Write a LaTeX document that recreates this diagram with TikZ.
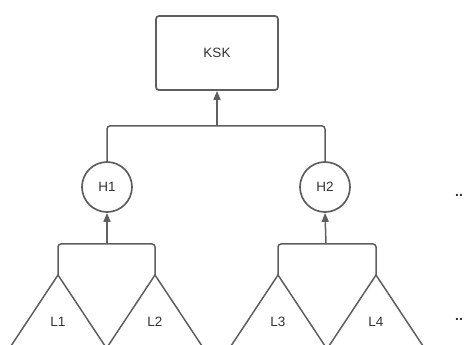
\documentclass[tikz,border=0pt]{standalone}
\usepackage{fontspec}
\setmainfont{Liberation Sans}
\usetikzlibrary{arrows.meta,calc}
\definecolor{ln}{HTML}{5F5F5F}
\definecolor{tx}{HTML}{333333}
\begin{document}
\begin{tikzpicture}[x=1pt,y=-1pt,
  every node/.style={font=\fontsize{13.5}{15}\selectfont, text=tx},
  conn/.style={draw=ln, line width=1.5pt, rounded corners=3pt},
  arr/.style={conn, -{Triangle[length=9pt,width=7pt]}},
  boxnode/.style={draw=ln, line width=1.7pt, rounded corners=3pt, minimum width=122pt, minimum height=74pt, inner sep=0pt},
  hnode/.style={draw=ln, line width=1.7pt, circle, minimum size=50pt, inner sep=0pt},
  tri/.style={draw=ln, line width=1.5pt, line join=miter}]
\useasboundingbox (0,0) rectangle (467,345);
\clip (0,0) rectangle (467,345);
\node[boxnode] (KSK) at (217,53) {KSK};
\node[hnode] (H1) at (107,187) {H1};
\node[hnode] (H2) at (325,187) {H2};
\coordinate (jk) at (217,126);
\coordinate (j1) at (107,244);
\coordinate (j2) at (326,244);
\coordinate (a1) at (58,275);
\coordinate (a2) at (155,275);
\coordinate (a3) at (278,275);
\coordinate (a4) at (376,275);
\foreach \a in {a1,a2,a3,a4}{
  \draw[tri] ($(\a)+(-53,80)$) -- (\a) -- ($(\a)+(53,80)$);
}
\node (L1) at (58,322) {L1};
\node (L2) at (155,322) {L2};
\node (L3) at (278,322) {L3};
\node (L4) at (376,322) {L4};
\draw[conn] (H1.north) |- (jk);
\draw[conn] (H2.north) |- (jk);
\draw[arr] (jk) -- (KSK.south);
\draw[conn] (a1) |- (j1);
\draw[conn] (a2) |- (j1);
\draw[arr] (j1) -- (H1.south);
\draw[conn] (a3) |- (j2);
\draw[conn] (a4) |- (j2);
\draw[arr] (j2) -- (H2.south);
\node[font=\fontsize{14}{14}\selectfont\bfseries] (d1) at (459,195) {..};
\node[font=\fontsize{14}{14}\selectfont\bfseries] (d2) at (459,319) {..};
\end{tikzpicture}
\end{document}
